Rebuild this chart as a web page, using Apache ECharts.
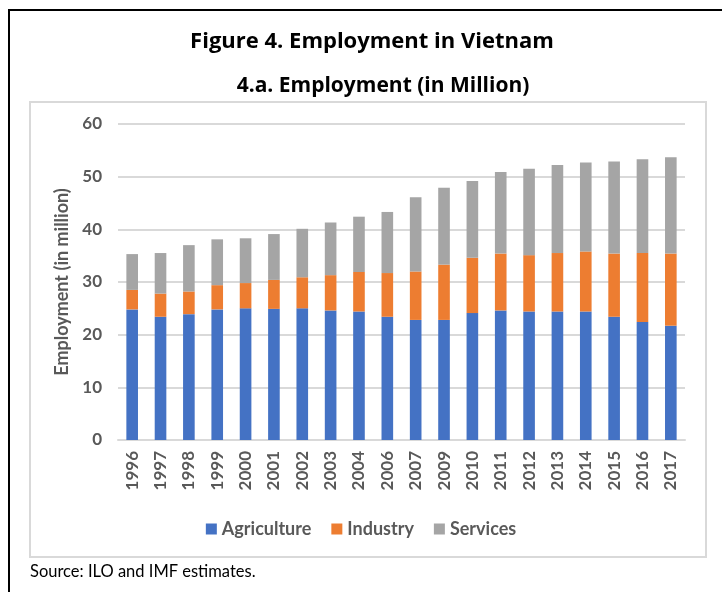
<!DOCTYPE html>
<html>
<head>
<meta charset="utf-8">
<script src="https://cdn.jsdelivr.net/npm/echarts@6/dist/echarts.min.js"></script>
<style>
  html, body { margin: 0; padding: 0; background: #ffffff; }
  #chart { width: 722px; height: 592px; }
</style>
</head>
<body>
<div id="chart"></div>
<script>
// Employment in Vietnam by sector, millions of workers
const years = ['1996','1997','1998','1999','2000','2001','2002','2003','2004','2006',
               '2007','2009','2010','2011','2012','2013','2014','2015','2016','2017'];
const agriculture = [24.8, 23.4, 23.9, 24.8, 25.0, 24.9, 25.0, 24.6, 24.4, 23.4,
                     22.8, 22.8, 24.1, 24.6, 24.4, 24.4, 24.4, 23.4, 22.4, 21.7];
const industry    = [3.7, 4.4, 4.3, 4.6, 4.8, 5.5, 5.9, 6.7, 7.5, 8.3,
                     9.2, 10.5, 10.5, 10.8, 10.7, 11.1, 11.4, 12.0, 13.1, 13.7];
const services    = [6.8, 7.7, 8.8, 8.7, 8.5, 8.7, 9.2, 10.0, 10.5, 11.6,
                     14.1, 14.6, 14.6, 15.5, 16.4, 16.7, 16.9, 17.5, 17.8, 18.3];
const yTicks = { min: 0, max: 60, interval: 10 };

const labelFont = 'Lato, "Open Sans", sans-serif';
const titleFont = '"Open Sans", "Noto Sans", sans-serif';

const chart = echarts.init(document.getElementById('chart'), null, { renderer: 'canvas' });

function barSeries(name, data, color) {
  return {
    name: name,
    type: 'bar',
    stack: 'total',
    data: data,
    barWidth: '41%',
    itemStyle: { color: color },
    emphasis: { disabled: true }
  };
}

chart.setOption({
  animation: false,
  backgroundColor: '#ffffff',
  title: [
    {
      text: 'Figure 4. Employment in Vietnam',
      left: 367, top: 26, textAlign: 'center',
      textStyle: { fontFamily: titleFont, fontWeight: 'bold', fontSize: 22, color: '#000000' }
    },
    {
      text: '4.a. Employment (in Million)',
      left: 378, top: 71, textAlign: 'center',
      textStyle: { fontFamily: titleFont, fontWeight: 'bold', fontSize: 21, color: '#000000' }
    }
  ],
  graphic: [
    // frame: heavy rule along the top and left
    { type: 'line', shape: { x1: 8, y1: 10, x2: 722, y2: 10 }, style: { stroke: '#000', lineWidth: 2 } },
    { type: 'line', shape: { x1: 9, y1: 10, x2: 9, y2: 592 }, style: { stroke: '#000', lineWidth: 2 } },
    // chart area box
    { type: 'rect', shape: { x: 30, y: 102, width: 676, height: 455 },
      style: { fill: 'none', stroke: '#d9d9d9', lineWidth: 2 }, z: -1 },
    { type: 'text', left: 30, top: 563,
      style: { text: 'Source: ILO and IMF estimates.', fill: '#000000',
               font: '16.5px Lato, sans-serif' } }
  ],
  legend: {
    data: ['Agriculture', 'Industry', 'Services'],
    left: 'center', top: 515,
    icon: 'rect', itemWidth: 11, itemHeight: 11, itemGap: 20, itemStyle: { borderWidth: 0 },
    textStyle: { fontFamily: labelFont, fontWeight: 'bold', fontSize: 18, color: '#595959' }
  },
  grid: { left: 118, right: 37, top: 124, bottom: 152 },
  xAxis: {
    type: 'category',
    data: years,
    axisLine: { lineStyle: { color: '#d9d9d9', width: 2 } },
    axisTick: { show: false },
    axisLabel: {
      rotate: 90, margin: 11, interval: 0,
      fontFamily: labelFont, fontWeight: 'bold', fontSize: 17, color: '#595959'
    }
  },
  yAxis: {
    type: 'value',
    min: yTicks.min, max: yTicks.max, interval: yTicks.interval,
    name: 'Employment (in million)',
    nameLocation: 'middle', nameGap: 41, nameRotate: 90,
    nameTextStyle: { fontFamily: labelFont, fontWeight: 'bold', fontSize: 18, color: '#595959' },
    axisLine: { show: false },
    axisTick: { show: false },
    axisLabel: { margin: 16, fontFamily: labelFont, fontWeight: 'bold', fontSize: 17, color: '#595959' },
    splitLine: { lineStyle: { color: '#d9d9d9', width: 2 } }
  },
  series: [
    barSeries('Agriculture', agriculture, '#4472c4'),
    barSeries('Industry', industry, '#ed7d31'),
    barSeries('Services', services, '#a5a5a5')
  ]
});
</script>
</body>
</html>
